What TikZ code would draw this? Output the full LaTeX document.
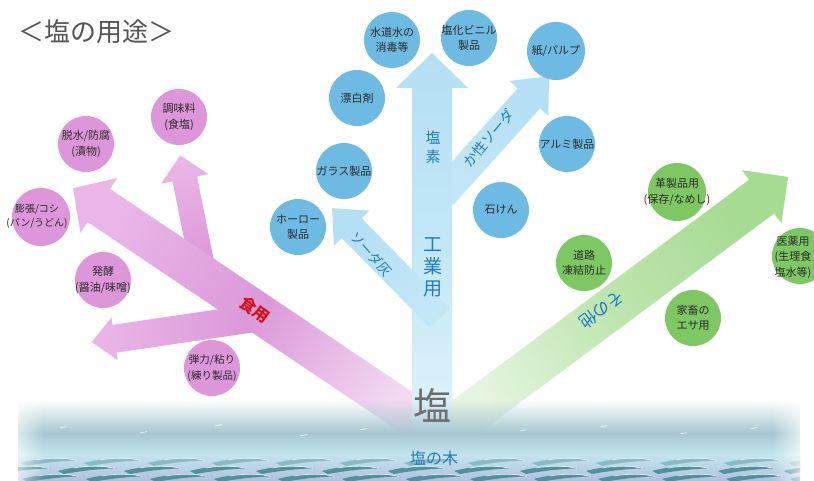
\documentclass[tikz,border=0pt]{standalone}
\usepackage{fontspec}
\setmainfont{Noto Sans CJK JP}
\usetikzlibrary{fadings}

% circle fills and text colours
\definecolor{pinkC}{HTML}{DD96D9}
\definecolor{blueC}{HTML}{6DBAE2}
\definecolor{greenC}{HTML}{7DC862}
\definecolor{txt}{HTML}{2B2B2B}
\definecolor{lblue}{HTML}{1F7BC4}
\definecolor{lred}{HTML}{D3121C}
\definecolor{titlegray}{HTML}{555555}
\definecolor{saltgray}{HTML}{6E6E6E}
% arrow gradients
\definecolor{pinkTip}{HTML}{E9B6E7}
\definecolor{pinkMid}{HTML}{DC98D9}
\definecolor{pinkRoot}{HTML}{F2DAF1}
\definecolor{blueTip}{HTML}{B5DFF5}
\definecolor{blueMid}{HTML}{C3E7F7}
\definecolor{blueRoot}{HTML}{E2F3FB}
\definecolor{greenTip}{HTML}{A6DB92}
\definecolor{greenMid}{HTML}{BEE5AF}
\definecolor{greenRoot}{HTML}{E6F5E1}
% sea
\definecolor{seaHaze}{HTML}{A6C7D1}
\definecolor{seaLight}{HTML}{C2E5ED}
\definecolor{seaDeep}{HTML}{52909B}
\definecolor{seaMid}{HTML}{8BBAC5}
\definecolor{seaLav}{HTML}{AFC0E0}

\tikzfading[name=hazein, top color=transparent!100, bottom color=transparent!0]
\tikzfading[name=edgeleft, left color=transparent!0, right color=transparent!100]
\tikzfading[name=edgeright, left color=transparent!100, right color=transparent!0]

% broad arrow: style, root x, root y, angle, length, shaft half width, head half width, head length
\newcommand\saltarrow[8]{%
  \begin{scope}[shift={(#2,#3)}, rotate=#4]
    \path[#1] (0,-#6) -- ({#5-#8},-#6) -- ({#5-#8},-#7) -- (#5,0)
      -- ({#5-#8},#7) -- ({#5-#8},#6) -- (0,#6) -- cycle;
  \end{scope}}

% one breaking wave crest
\newcommand\wavecrest[3]{%
  \fill[#3] (#1,#2) .. controls ({#1+18},{#2-5}) and ({#1+40},{#2-6}) .. ({#1+58},{#2-2.5})
     .. controls ({#1+44},{#2-2.5}) and ({#1+22},{#2}) .. ({#1+6},{#2+3}) -- cycle;
  \draw[white, line width=0.6pt, opacity=0.85] ({#1+16},{#2-3}) .. controls ({#1+30},{#2-5.5}) and ({#1+45},{#2-5.5}) .. ({#1+57},{#2-2.5});}

\tikzset{
  circ/.style={circle, minimum size=56pt, inner sep=0pt},
  pinkc/.style={circ, fill=pinkC},
  bluec/.style={circ, fill=blueC},
  greenc/.style={circ, fill=greenC},
  ctext/.style={align=center, text=txt, inner sep=0pt, font=\fontsize{11}{15.5}\selectfont},
  pinkarrow/.style={top color=pinkTip, bottom color=pinkRoot, middle color=pinkMid, shading angle=#1},
  pinkbranch/.style={top color=pinkTip, bottom color=pinkMid, shading angle=#1},
  bluearrow/.style={top color=blueTip, bottom color=blueRoot, middle color=blueMid, shading angle=#1},
  bluebranch/.style={top color=blueTip, bottom color=blueMid, shading angle=#1},
  greenarrow/.style={top color=greenTip, bottom color=greenRoot, middle color=greenMid, shading angle=#1},
  arrowlabel/.style={text=lblue, inner sep=0pt, align=center},
}

\begin{document}
\begin{tikzpicture}[x=1pt, y=-1pt]
\useasboundingbox (0,0) rectangle (814,481);
\clip (0,0) rectangle (814,481);
\fill[white] (0,0) rectangle (814,481);

% title
\node[text=titlegray, inner sep=0pt, font=\fontsize{26}{26}\selectfont] (title) at (97,32) {＜塩の用途＞};

% food arrows
\saltarrow{pinkbranch=11.3}{203}{270}{101.3}{117}{12.5}{24}{24}
\saltarrow{pinkbranch=98.4}{255}{318}{188.4}{165}{14}{21.5}{23}
\saltarrow{pinkarrow=56.1}{430}{428}{146.1}{430}{20}{33}{31}

% other-uses arrow
\saltarrow{greenarrow=-53.35}{448}{430}{36.65}{424}{21}{33}{33}

% industrial arrows
\saltarrow{bluebranch=-42}{442}{195}{48}{160}{15}{26}{30}
\saltarrow{bluearrow=0}{432}{440}{90}{387}{20}{36}{35}
\saltarrow{bluebranch=44.5}{440}{318}{134.5}{154}{14}{25}{28}

% arrow labels
\node[text=lred, inner sep=0pt, rotate=-36, font=\fontsize{16}{16}\selectfont\bfseries] (food) at (255,310) {食用};
\node[arrowlabel, font=\fontsize{15}{19}\selectfont] (chlorine) at (433,147) {塩\\素};
\node[arrowlabel, font=\fontsize{19}{22}\selectfont] (industry) at (433,267) {工\\業\\用};
\node[arrowlabel, rotate=-48.8, font=\fontsize{13.5}{13.5}\selectfont] (sodaash) at (371,254) {ソーダ灰};
\node[arrowlabel, rotate=50, font=\fontsize{14}{14}\selectfont] (caustic) at (489,138) {か性ソーダ};
\node[arrowlabel, rotate=-143.35, font=\fontsize{17}{17}\selectfont] (other) at (602,310) {その他};

% food uses
\node[pinkc] (p1) at (179,117) {};
\node[ctext] (p1t) at (p1) {調味料\\(食塩)};
\node[pinkc] (p2) at (86,144) {};
\node[ctext] (p2t) at (p2) {脱水/防腐\\(漬物)};
\node[pinkc, minimum size=58pt] (p3) at (41,217) {};
\node[ctext, font=\fontsize{10}{14}\selectfont] (p3t) at (37,216) {膨張/コシ\\(パン/うどん)};
\node[pinkc] (p4) at (103,280) {};
\node[ctext] (p4t) at (p4) {発酵\\(醤油/味噌)};
\node[pinkc] (p5) at (212,368) {};
\node[ctext, font=\fontsize{10.5}{15.5}\selectfont] (p5t) at (p5) {弾力/粘り\\(練り製品)};

% industrial uses
\node[bluec] (b1) at (392,40) {};
\node[ctext] (b1t) at (b1) {水道水の\\消毒等};
\node[bluec] (b2) at (469,38) {};
\node[ctext] (b2t) at (b2) {塩化ビニル\\製品};
\node[bluec, minimum size=58pt] (b3) at (556,51) {};
\node[ctext] (b3t) at (b3) {紙/パルプ};
\node[bluec] (b4) at (357,98) {};
\node[ctext] (b4t) at (b4) {漂白剤};
\node[bluec] (b5) at (567,144) {};
\node[ctext] (b5t) at (b5) {アルミ製品};
\node[bluec] (b6) at (344,171) {};
\node[ctext] (b6t) at (b6) {ガラス製品};
\node[bluec] (b7) at (501,210) {};
\node[ctext] (b7t) at (b7) {石けん};
\node[bluec] (b8) at (298,227) {};
\node[ctext] (b8t) at (b8) {ホーロー\\製品};

% other uses
\node[greenc, minimum size=58pt] (g1) at (677,192) {};
\node[ctext] (g1t) at (g1) {革製品用\\(保存/なめし)};
\node[greenc] (g2) at (584,263) {};
\node[ctext] (g2t) at (g2) {道路\\凍結防止};
\node[greenc] (g3) at (800,256) {};
\node[ctext] (g3t) at (793,257) {医薬用\\(生理食\\塩水等)};
\node[greenc] (g4) at (693,318) {};
\node[ctext] (g4t) at (g4) {家畜の\\エサ用};

% the sea
\begin{scope}
  \clip (18,390) rectangle (800,481);
  \fill[seaHaze, path fading=hazein] (18,400) rectangle (800,433);
  \fill[top color=seaHaze, bottom color=seaLight] (18,433) rectangle (800,455);
  \fill[top color=seaLight, bottom color=seaLav] (18,455) rectangle (800,481);
  \foreach \x in {20,84,...,800} {\wavecrest{\x}{463}{seaMid}}
  \foreach \x in {-8,58,...,800} {\wavecrest{\x}{471}{seaDeep}}
  \foreach \x in {22,86,...,800} {\wavecrest{\x}{479}{seaDeep}}
  \foreach \x/\y in {60/428,140/433,215/426,300/436,360/430,520/431,600/427,680/434,750/429} {
    \draw[white, line width=0.6pt, opacity=0.8] (\x,\y) -- ({\x+7},{\y-1.5});}
\end{scope}
\fill[white, path fading=edgeleft] (0,390) rectangle (44,481);
\fill[white, path fading=edgeright] (772,390) rectangle (814,481);

% root of the tree
\node[text=saltgray, inner sep=0pt, font=\fontsize{38}{38}\selectfont] (salt) at (432,405) {塩};
\node[text=lblue, inner sep=0pt, font=\fontsize{16}{16}\selectfont] (tree) at (434,458) {塩の木};
\end{tikzpicture}
\end{document}
